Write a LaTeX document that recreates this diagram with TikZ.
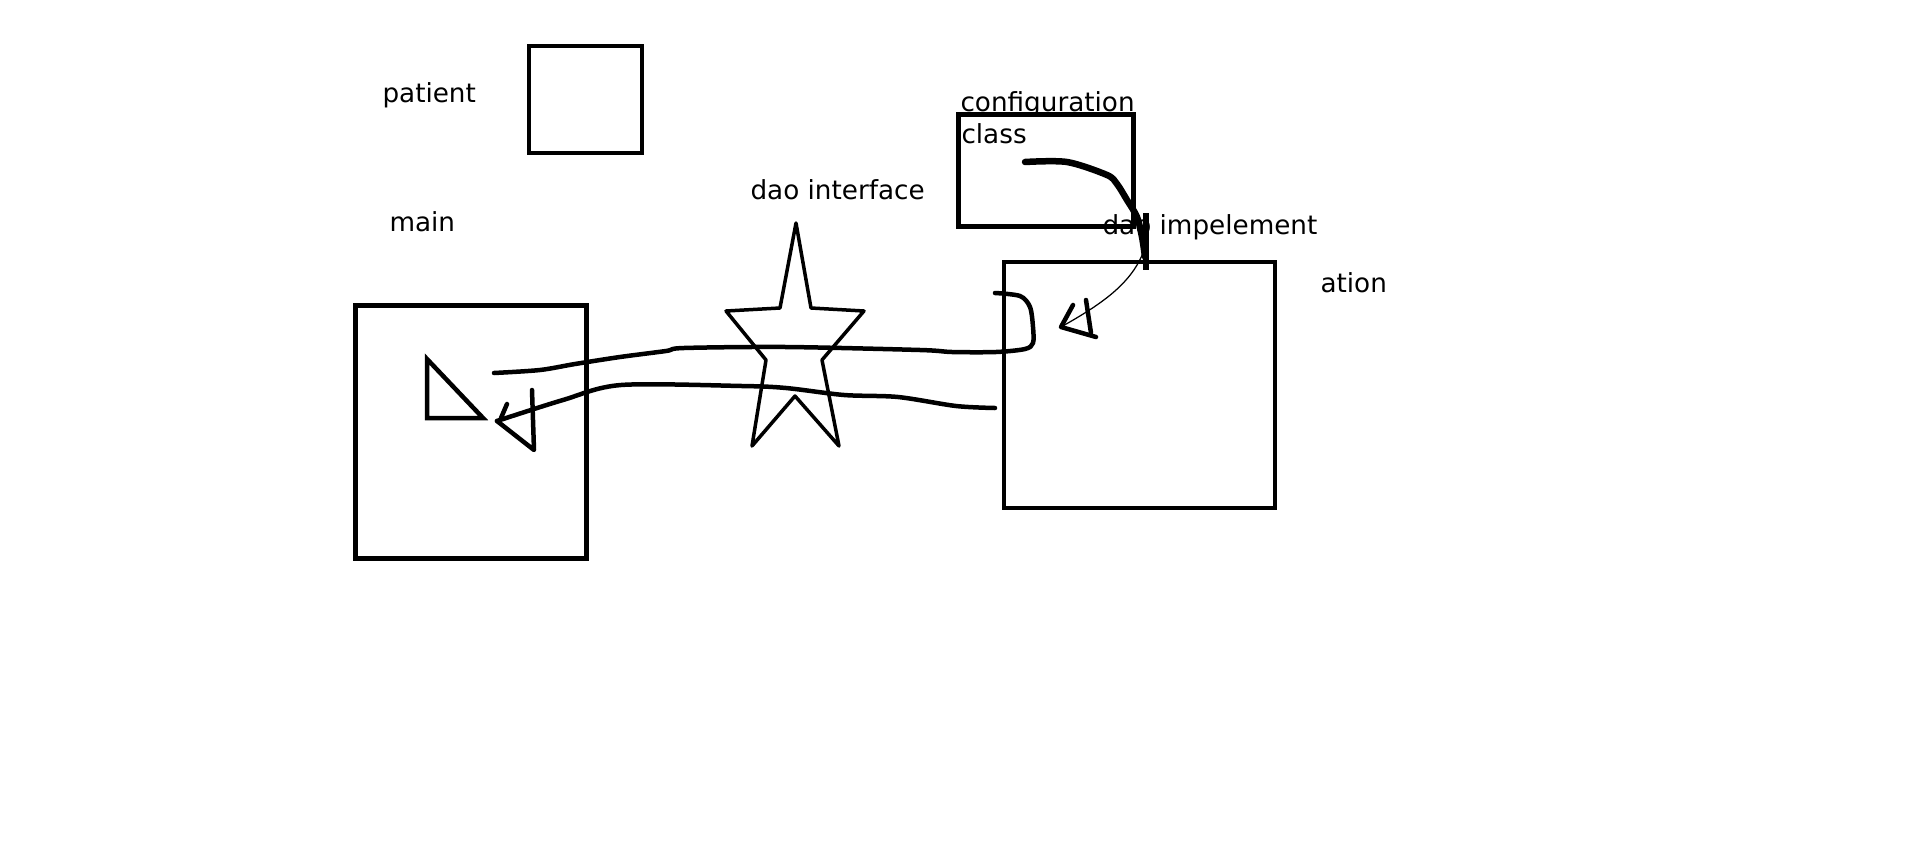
\documentclass[tikz,border=0pt]{standalone}
\usepackage{fontspec}
\setmainfont{DejaVu Sans}

\def\px{0.4pt}

\begin{document}
\begin{tikzpicture}[x=\px, y=-\px]
	\tikzstyle{box}=[draw, line width=1.9pt, inner sep=0pt, outer sep=0pt]
	\tikzstyle{txt}=[anchor=base west, inner sep=0pt, font=\fontsize{10.5pt}{13pt}\selectfont]
	\tikzstyle{pen}=[line width=1.8pt, line cap=round, line join=round]

	\useasboundingbox (0,0) rectangle (1914,847);

	% Labels
	\node[txt] (tpatient) at (382,102) {patient};
	\node[txt] (tmain) at (389,231) {main};
	\node[txt] (tdaoif) at (750,199) {dao interface};
	\node[txt] (tconf) at (960,111) {configuration};
	\node[txt] (tclass) at (961,143) {class};
	\node[txt] (tdaoimpl) at (1102,234) {dao impelement};
	\node[txt] (tation) at (1320,292) {ation};

	% Boxes
	\node[box, minimum width={113*\px}, minimum height={107*\px}] (patient) at (585.5,99.5) {};
	\node[box, minimum width={231*\px}, minimum height={253*\px}] (main) at (471.3,431.7) {};
	\node[box, minimum width={175*\px}, minimum height={111.5*\px}] (config) at (1046.3,170.5) {};
	\node[box, minimum width={271*\px}, minimum height={246*\px}] (daoimpl) at (1139.4,385) {};

	% Triangle in main
	\draw[line width=1.8pt] (427,359) -- (427,418) -- (483,418) -- cycle;

	% Star (dao interface)
	\draw[line width=1.4pt, line join=round]
		(796,223) -- (811,308) -- (864,311) -- (822,360) -- (839,446) -- (795,396)
		-- (752,446) -- (766,360) -- (726,311) -- (780,308) -- cycle;

	% Config -> dao implementation
	\coordinate (cstart) at (1025,162);
	\coordinate (cend) at (1145,257);
	\draw[line width=2.6pt, line cap=round] plot[smooth] coordinates
		{(cstart) (1067,162) (1107,175) (1117,184) (1127,200) (1137,217) (1142,237) (cend)};
	\draw[line width=2.2pt] (1146,213) -- (1146,270);
	\coordinate (itip) at (1061,327);
	\draw[line width=0.5pt] (1143,253) .. controls (1130,285) and (1100,305) .. (itip);
	\draw[pen] (1073,305) -- (itip) -- (1096,337);
	\draw[pen] (1086,300) -- (1091,333);

	% dao implementation -> main (upper)
	\coordinate (ustart) at (995,293);
	\coordinate (uend) at (494,373);
	\draw[pen] plot[smooth] coordinates
		{(ustart) (1020,296) (1030,307) (1033,327) (1033,343) (1025,349) (996,352)
		 (952,352) (920,350) (786,347) (684,348) (666,351) (620,357) (575,364) (540,370) (uend)};

	% dao implementation -> main (lower)
	\coordinate (lstart) at (995,408);
	\coordinate (ltip) at (497,421);
	\draw[pen] plot[smooth] coordinates
		{(lstart) (956,406) (898,397) (844,395) (786,388) (742,386) (621,385) (563,400) (ltip)};
	\draw[pen] (532,390) -- (534,450) -- (ltip);
	\draw[pen] (507,404) -- (501,418);

\end{tikzpicture}
\end{document}
